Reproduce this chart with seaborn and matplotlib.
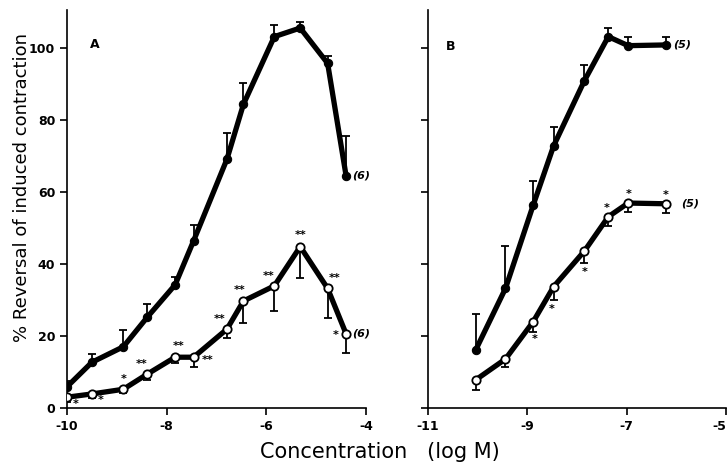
import numpy as np
import pandas as pd
import matplotlib
matplotlib.use('Agg')
import matplotlib.pyplot as plt
import seaborn as sns

# Panel A data (log M concentrations, % reversal)
a_conc = [-10, -9.5, -8.87, -8.39, -7.83, -7.46, -6.79, -6.46, -5.84, -5.32, -4.77, -4.40]
a_filled = [5.9, 12.7, 17.0, 25.2, 34.2, 46.4, 69.1, 84.3, 103.1, 105.5, 95.7, 64.5]
a_filled_err = [1.5, 2.3, 4.7, 3.6, 2.3, 4.4, 7.3, 5.8, 3.3, 1.8, 2.1, 11.1]
a_open = [3.0, 3.9, 5.2, 9.4, 14.1, 14.1, 21.9, 29.7, 33.9, 44.8, 33.2, 20.6]
a_open_err = [1.2, 1.0, 1.0, 1.6, 1.7, 2.6, 2.5, 6.2, 6.9, 8.8, 8.3, 5.4]
a_stars = ['*', '*', '*', '**', '**', '**', '**', '**', '**', '**', '**', '*']

# Panel B data
b_conc = [-10.04, -9.44, -8.88, -8.47, -7.85, -7.37, -6.97, -6.21]
b_filled = [16.1, 33.2, 56.4, 72.8, 90.9, 103.1, 100.6, 100.8]
b_filled_err = [9.9, 11.9, 6.7, 5.1, 4.2, 2.5, 2.5, 2.1]
b_open = [7.8, 13.6, 24.0, 33.7, 43.6, 53.1, 56.9, 56.7]
b_open_err = [2.8, 2.1, 2.8, 3.7, 3.4, 2.7, 2.4, 2.5]
b_stars = ['', '', '*', '*', '*', '*', '*', '*']

# star label offsets in pixels (dx, dy)
a_star_off = [(9, -7), (9, -6), (0, 10), (-6, 10), (3, 11), (14, -3), (-7, 10), (-4, 11), (-6, 10), (0, 12), (7, 10), (-10, -1)]
b_star_off = [(0, 0), (0, 0), (1, -17), (-2, -22), (0, -21), (-2, 9), (0, 9), (0, 9)]

sns.set_style('ticks')
plt.rcParams['axes.unicode_minus'] = False
plt.rcParams['font.family'] = ['DejaVu Sans']
for key in ['text.color', 'axes.edgecolor', 'xtick.color', 'ytick.color', 'axes.labelcolor']:
    plt.rcParams[key] = 'black'

fig = plt.figure(figsize=(7.27, 4.71), dpi=100)
ax_a = fig.add_axes([67 / 727, 63 / 471, 299 / 727, 398 / 471])
ax_b = fig.add_axes([428 / 727, 63 / 471, 298 / 727, 398 / 471])


def draw_panel(ax, conc, filled, filled_err, opened, opened_err, stars, offs):
    df = pd.DataFrame({'conc': conc, 'filled': filled, 'open': opened})
    ax.errorbar(conc, filled, yerr=[np.zeros(len(conc)), filled_err], fmt='none',
                ecolor='black', elinewidth=1.3, capsize=3, capthick=1.3, zorder=2)
    ax.errorbar(conc, opened, yerr=[opened_err, np.zeros(len(conc))], fmt='none',
                ecolor='black', elinewidth=1.3, capsize=3, capthick=1.3, zorder=2)
    sns.lineplot(data=df, x='conc', y='filled', ax=ax, color='black', lw=3.8,
                 marker='o', markersize=6, markerfacecolor='black',
                 markeredgecolor='black', zorder=3)
    sns.lineplot(data=df, x='conc', y='open', ax=ax, color='black', lw=3.8,
                 marker='o', markersize=6, markerfacecolor='white',
                 markeredgecolor='black', markeredgewidth=1.3, zorder=4)
    for x, y, s, (dx, dy) in zip(conc, opened, stars, offs):
        if s:
            ax.annotate(s, (x, y), xytext=(dx, dy), textcoords='offset pixels',
                        ha='center', va='center', fontsize=8, fontweight='bold')
    ax.set_ylim(0, 110.5)
    ax.set_yticks([0, 20, 40, 60, 80, 100])
    ax.set_xlabel('')
    ax.set_ylabel('')
    sns.despine(ax=ax)
    for sp in ['left', 'bottom']:
        ax.spines[sp].set_linewidth(1.2)
    ax.tick_params(direction='out', length=5, width=1.2, labelsize=9)
    for lab in ax.get_xticklabels() + ax.get_yticklabels():
        lab.set_fontweight('bold')


draw_panel(ax_a, a_conc, a_filled, a_filled_err, a_open, a_open_err, a_stars, a_star_off)
ax_a.set_xlim(-10, -4)
ax_a.set_xticks([-10, -8, -6, -4])
ax_a.set_xticklabels(['-10', '-8', '-6', '-4'], fontweight='bold')
ax_a.set_yticklabels(['0', '20', '40', '60', '80', '100'], fontweight='bold')
ax_a.text(-9.45, 101, 'A', fontsize=9, fontweight='bold', ha='center', va='center')
ax_a.annotate('(6)', (a_conc[-1], a_filled[-1]), xytext=(6, 0), textcoords='offset pixels',
              ha='left', va='center', fontsize=8, fontstyle='italic', fontweight='bold')
ax_a.annotate('(6)', (a_conc[-1], a_open[-1]), xytext=(6, 0), textcoords='offset pixels',
              ha='left', va='center', fontsize=8, fontstyle='italic', fontweight='bold')

draw_panel(ax_b, b_conc, b_filled, b_filled_err, b_open, b_open_err, b_stars, b_star_off)
ax_b.set_xlim(-11, -5)
ax_b.set_xticks([-11, -9, -7, -5])
ax_b.set_xticklabels(['-11', '-9', '-7', '-5'], fontweight='bold')
ax_b.get_xticklabels()[-1].set_horizontalalignment('right')
ax_b.set_yticklabels([])
ax_b.text(-10.55, 100.5, 'B', fontsize=9, fontweight='bold', ha='center', va='center')
ax_b.annotate('(5)', (b_conc[-1], b_filled[-1]), xytext=(7, 0), textcoords='offset pixels',
              ha='left', va='center', fontsize=8, fontstyle='italic', fontweight='bold')
ax_b.annotate('(5)', (b_conc[-1], b_open[-1]), xytext=(15, 0), textcoords='offset pixels',
              ha='left', va='center', fontsize=8, fontstyle='italic', fontweight='bold')

fig.text(22 / 727, 1 - 188 / 471, '% Reversal of induced contraction', rotation=90,
         ha='center', va='center', fontsize=13)
fig.text(380 / 727, 1 - 452 / 471, 'Concentration   (log M)', ha='center', va='center',
         fontsize=15)

fig.savefig('out.png', dpi=100)
